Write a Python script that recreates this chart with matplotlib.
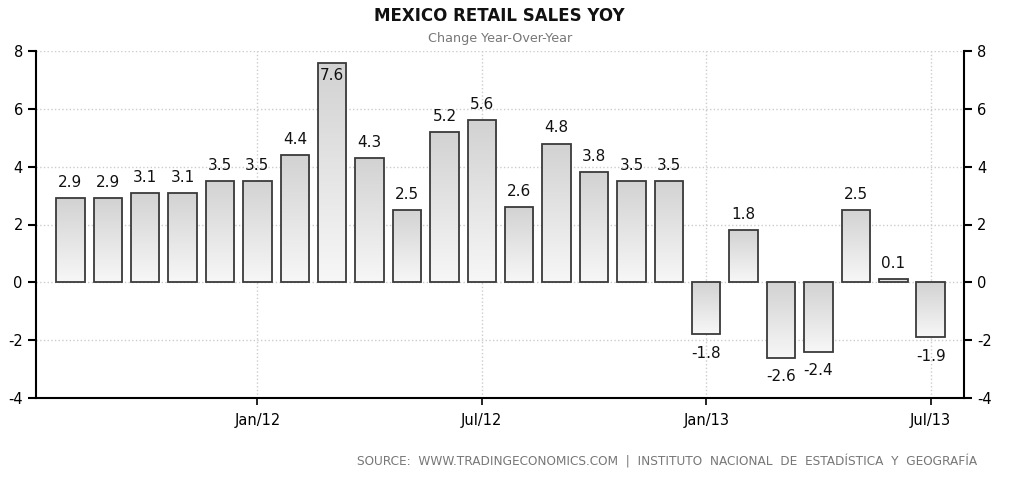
import numpy as np
import matplotlib.pyplot as plt
from matplotlib.patches import Rectangle
from matplotlib.colors import LinearSegmentedColormap

plt.rcParams['axes.unicode_minus'] = False

# Monthly YoY change, Aug 2011 .. Jul 2013
months = ['Aug/11', 'Sep/11', 'Oct/11', 'Nov/11', 'Dec/11', 'Jan/12', 'Feb/12', 'Mar/12',
          'Apr/12', 'May/12', 'Jun/12', 'Jul/12', 'Aug/12', 'Sep/12', 'Oct/12', 'Nov/12',
          'Dec/12', 'Jan/13', 'Feb/13', 'Mar/13', 'Apr/13', 'May/13', 'Jun/13', 'Jul/13']
values = [2.9, 2.9, 3.1, 3.1, 3.5, 3.5, 4.4, 7.6, 4.3, 2.5, 5.2, 5.6,
          2.6, 4.8, 3.8, 3.5, 3.5, -1.8, 1.8, -2.6, -2.4, 2.5, 0.1, -1.9]
tick_labels = ['Jan/12', 'Jul/12', 'Jan/13', 'Jul/13']

x = np.arange(len(values))
tick_pos = [months.index(t) for t in tick_labels]

fig = plt.figure(figsize=(10.24, 4.87), dpi=100)
ax = fig.add_axes([36 / 1024, 1 - 398 / 487, 928 / 1024, 347 / 487])

# light at bottom, darker grey at top
cmap = LinearSegmentedColormap.from_list('bargrad', ['#f7f7f7', '#d2d2d2'])
grad = np.linspace(0, 1, 256).reshape(-1, 1)

bars = ax.bar(x, values, width=0.76, color='none', edgecolor='#3a3a3a', linewidth=1.3, zorder=3)
for b in bars:
    x0, y0 = b.get_x(), b.get_y()
    w, h = b.get_width(), b.get_height()
    lo, hi = min(y0, y0 + h), max(y0, y0 + h)
    im = ax.imshow(grad, extent=[x0, x0 + w, lo, hi], origin='lower', aspect='auto',
                   cmap=cmap, vmin=0, vmax=1, zorder=2)
    im.set_clip_path(Rectangle((x0, lo), w, hi - lo, transform=ax.transData))

ax.set_xlim(-0.92, 23.89)
ax.set_ylim(-4, 8)

for xi, v in zip(x, values):
    if v >= 0:
        if v + 0.9 > 8:
            ax.text(xi, v - 0.2, f'{v:.1f}', ha='center', va='top', fontsize=11, color='#111111', zorder=4)
        else:
            ax.text(xi, v + 0.28, f'{v:.1f}', ha='center', va='bottom', fontsize=11, color='#111111')
    else:
        ax.text(xi, v - 0.4, f'{v:.1f}', ha='center', va='top', fontsize=11, color='#111111')

ax.set_xticks(tick_pos)
ax.set_xticklabels(tick_labels, fontsize=10.5)
ax.set_yticks(range(-4, 9, 2))
ax.tick_params(axis='y', labelsize=10.5, length=6, width=1.5, direction='out',
               left=True, right=True, labelleft=True, labelright=True)
ax.tick_params(axis='x', length=5, width=1.2, direction='out', pad=6)
ax.grid(True, color='#cccccc', linestyle=':', linewidth=1, zorder=0)
ax.set_axisbelow(True)
ax.spines['top'].set_visible(False)
for s in ['left', 'right', 'bottom']:
    ax.spines[s].set_linewidth(1.5)

fig.text(0.488, 0.967, 'MEXICO RETAIL SALES YOY', ha='center', va='center',
         fontsize=12, fontweight='bold', color='#111111')
fig.text(0.488, 0.92, 'Change Year-Over-Year', ha='center', va='center',
         fontsize=9.2, color='#777777')
fig.text(0.954, 0.052, 'SOURCE:  WWW.TRADINGECONOMICS.COM  |  INSTITUTO  NACIONAL  DE  ESTADÍSTICA  Y  GEOGRAFÍA',
         ha='right', va='center', fontsize=8.7, color='#777777')

fig.savefig('out.png', dpi=100)
